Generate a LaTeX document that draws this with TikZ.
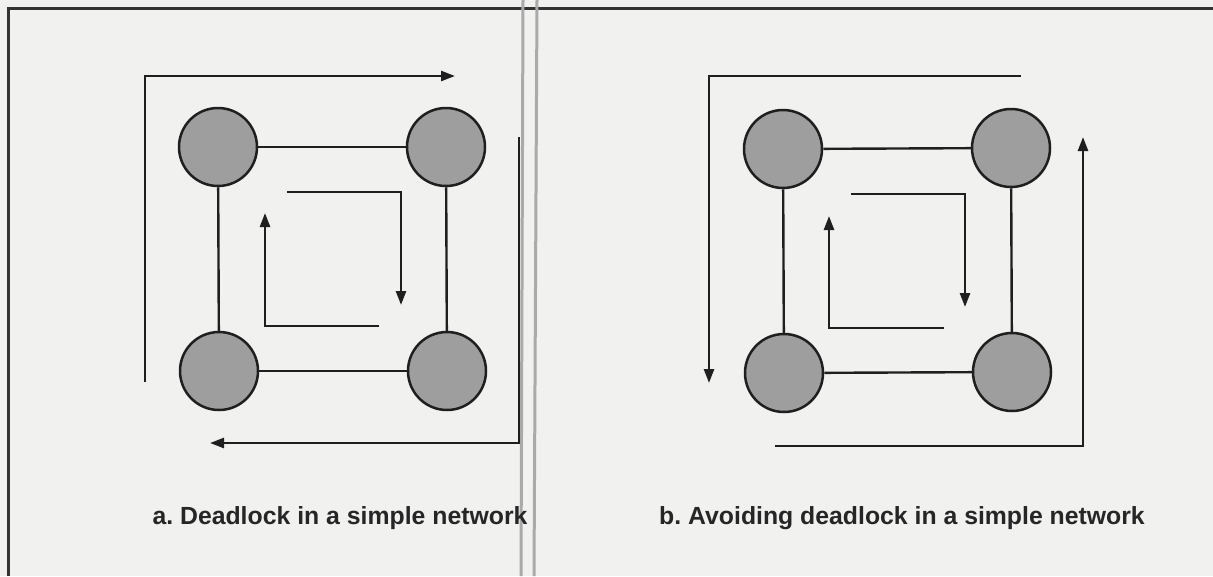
\documentclass[tikz,border=0pt]{standalone}
\usepackage{fontspec}
\setmainfont{Liberation Sans}
\usetikzlibrary{arrows.meta}
\definecolor{paper}{RGB}{241,241,240}
\definecolor{nodefill}{RGB}{158,158,158}
\definecolor{divider}{RGB}{170,170,170}
\begin{document}
\begin{tikzpicture}[x=1pt,y=-1pt,
  router/.style={circle,draw=black!88,line width=2.5pt,fill=nodefill,minimum size=78pt,inner sep=0pt},
  link/.style={draw=black!88,line width=2.4pt},
  flow/.style={draw=black!88,line width=2.5pt,-{Triangle[length=14pt,width=10pt]}},
  caption/.style={anchor=base,inner sep=0pt,font=\bfseries\frenchspacing\fontsize{24.8}{30}\selectfont,text=black!85}]
\useasboundingbox (0,0) rectangle (1213,576);
\fill[paper] (0,0) rectangle (1213,576);
% frame
\draw[line width=3pt,black!80] (8,576) -- (8,8) -- (1213,8);
\draw[line width=3pt,divider] (523,0) -- (521,576);
\draw[line width=3pt,divider] (537,0) -- (534,576);
% panel a
\node[router] (a1) at (218,147) {};
\node[router] (a2) at (446,147) {};
\node[router] (a3) at (219,371) {};
\node[router] (a4) at (447,371) {};
\draw[link] (a1) -- (a2);
\draw[link] (a3) -- (a4);
\draw[link] (a1) -- (a3);
\draw[link] (a2) -- (a4);
\coordinate (a1s) at (145,382); \coordinate (a1m) at (145,76); \coordinate (a1e) at (455,76);
\coordinate (a2s) at (519,137); \coordinate (a2m) at (519,443); \coordinate (a2e) at (210,443);
\coordinate (a3s) at (287,192); \coordinate (a3m) at (401,192); \coordinate (a3e) at (401,305);
\coordinate (a4s) at (379,326); \coordinate (a4m) at (265,326); \coordinate (a4e) at (265,213);
\draw[flow] (a1s) -- (a1m) -- (a1e);
\draw[flow] (a2s) -- (a2m) -- (a2e);
\draw[flow] (a3s) -- (a3m) -- (a3e);
\draw[flow] (a4s) -- (a4m) -- (a4e);
\node[caption] (capA) at (340,524) {a. Deadlock in a simple network};
% panel b
\node[router] (b1) at (783,149) {};
\node[router] (b2) at (1011,148) {};
\node[router] (b3) at (784,373) {};
\node[router] (b4) at (1012,372) {};
\draw[link] (b1) -- (b2);
\draw[link] (b3) -- (b4);
\draw[link] (b1) -- (b3);
\draw[link] (b2) -- (b4);
\coordinate (b1s) at (1021,76); \coordinate (b1m) at (709,76); \coordinate (b1e) at (709,383);
\coordinate (b2s) at (775,446); \coordinate (b2m) at (1083,446); \coordinate (b2e) at (1083,137);
\coordinate (b3s) at (851,194); \coordinate (b3m) at (965,194); \coordinate (b3e) at (965,307);
\coordinate (b4s) at (944,328); \coordinate (b4m) at (829,328); \coordinate (b4e) at (829,216);
\draw[flow] (b1s) -- (b1m) -- (b1e);
\draw[flow] (b2s) -- (b2m) -- (b2e);
\draw[flow] (b3s) -- (b3m) -- (b3e);
\draw[flow] (b4s) -- (b4m) -- (b4e);
\node[caption] (capB) at (902,524) {b. Avoiding deadlock in a simple network};
\end{tikzpicture}
\end{document}
